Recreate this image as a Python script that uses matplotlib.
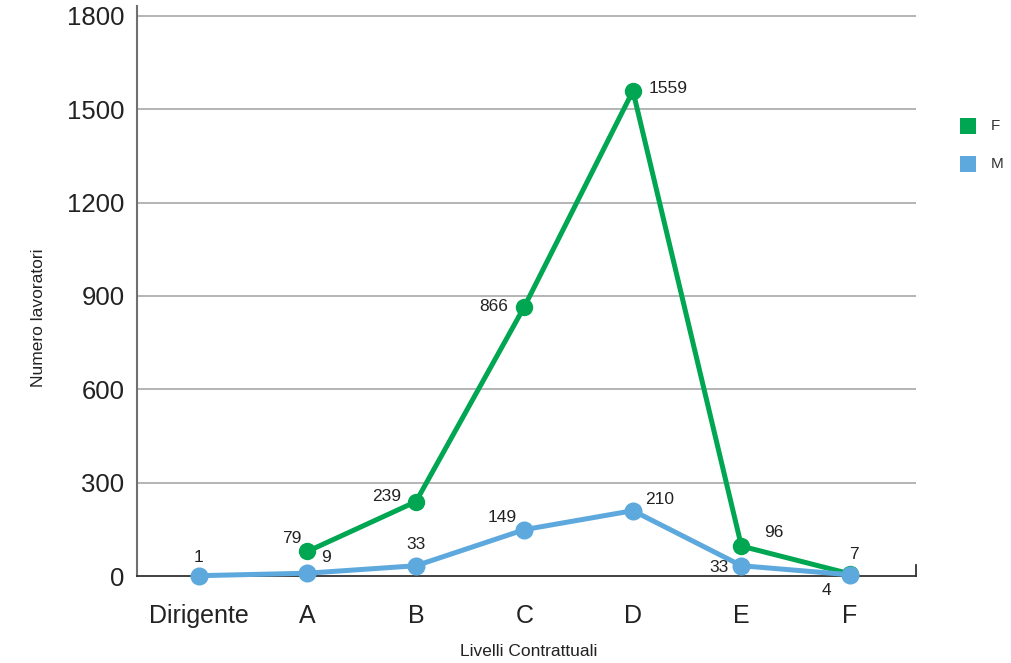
import matplotlib
matplotlib.use("Agg")
import matplotlib.pyplot as plt
from matplotlib.patches import Rectangle

plt.rcParams['font.family'] = ['Liberation Sans', 'DejaVu Sans']

categories = ["Dirigente", "A", "B", "C", "D", "E", "F"]
female = [None, 79, 239, 866, 1559, 96, 7]
male = [1, 9, 33, 149, 210, 33, 4]
y_ticks = [0, 300, 600, 900, 1200, 1500, 1800]
series_names = ["F", "M"]

green = "#00a651"
blue = "#5da9dd"
text_color = "#222222"

# label offsets (points) for each value label
f_offsets = [None, (-11, 9), (-21, 4), (-22, 0), (25, 2), (23, 10), (3, 14)]
m_offsets = [(0, 13), (13, 11), (0, 15), (-16, 9), (19, 8), (-16, -1), (-17, -11)]

fig = plt.figure(figsize=(10.11, 6.63), dpi=100)
ax = fig.add_axes([137 / 1011, 1 - 576 / 663, (916 - 137) / 1011, (576 - 6) / 663])

x = list(range(len(categories)))
fx = [i for i, v in zip(x, female) if v is not None]
fv = [v for v in female if v is not None]

ax.plot(fx, fv, color=green, lw=3.6, marker='o', ms=11.5, zorder=3, clip_on=False)
ax.plot(x, male, color=blue, lw=3.6, marker='o', ms=12, zorder=4, clip_on=False)

for i, v in zip(x, female):
    if v is None:
        continue
    dx, dy = f_offsets[i]
    ax.annotate(str(v), (i, v), xytext=(dx, dy), textcoords='offset points',
                ha='center', va='center', fontsize=12.5, color=text_color, zorder=6)
for i, v in zip(x, male):
    dx, dy = m_offsets[i]
    ax.annotate(str(v), (i, v), xytext=(dx, dy), textcoords='offset points',
                ha='center', va='center', fontsize=12.5, color=text_color, zorder=6)

ax.set_xlim(-0.571, 6.609)
ax.set_ylim(0, 1832)
ax.set_yticks(y_ticks)
ax.set_yticklabels([str(t) for t in y_ticks], fontsize=18.5, color=text_color)
ax.set_xticks(x)
ax.set_xticklabels(categories, fontsize=18, color=text_color)
ax.tick_params(axis='both', length=0)
ax.tick_params(axis='x', pad=20)
ax.tick_params(axis='y', pad=9)

for t in y_ticks[1:]:
    ax.axhline(t, color='#a0a0a0', lw=1.1, zorder=1)

for s in ['top', 'right']:
    ax.spines[s].set_visible(False)
ax.spines['left'].set_color('#707070')
ax.spines['left'].set_linewidth(1.5)
ax.spines['bottom'].set_color('#333333')
ax.spines['bottom'].set_linewidth(1.3)
# small end tick closing the baseline on the right
ax.plot([6.609, 6.609], [0, 36], color='#333333', lw=1.3, clip_on=False, zorder=2)

ax.set_ylabel("Numero lavoratori", fontsize=12.5, color=text_color)
ax.yaxis.set_label_coords(-0.126, 0.453)
ax.yaxis.label.set_va('center')
ax.set_xlabel("Livelli Contrattuali", fontsize=12.5, color=text_color)
ax.xaxis.set_label_coords(0.503, -0.1316)
ax.xaxis.label.set_va('center')

# legend: colour squares with series names at the right edge
W, H = 1011, 663
for name, color, yc in zip(series_names, [green, blue], [126, 164]):
    fig.patches.append(Rectangle((960 / W, 1 - (yc + 8) / H), 16 / W, 16 / H,
                                 transform=fig.transFigure, facecolor=color,
                                 edgecolor='none'))
    fig.text(991 / W, 1 - yc / H, name, fontsize=11, color='#333333',
             ha='left', va='center')

fig.savefig("out.png", dpi=100)
